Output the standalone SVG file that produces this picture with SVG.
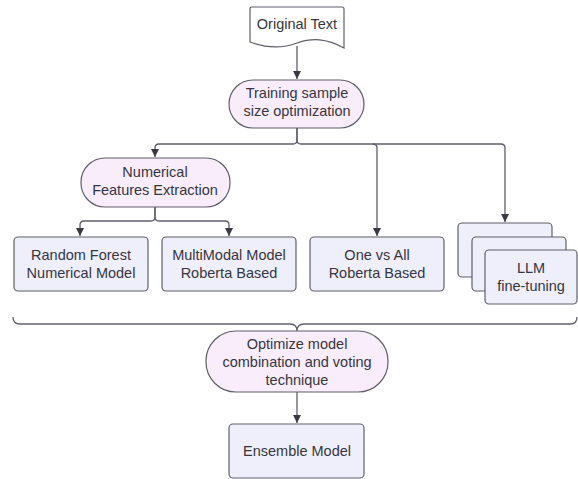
<svg xmlns="http://www.w3.org/2000/svg" width="578" height="479" viewBox="0 0 578 479">
<defs>
<marker id="ah" viewBox="0 0 10 10" refX="10" refY="5" markerWidth="8" markerHeight="8" markerUnits="userSpaceOnUse" orient="auto">
<path d="M0,0 L10,5 L0,10 Z" fill="#3a3a44"/>
</marker>
<style>
.box{fill:#efeffc;stroke:#5f5f6b;stroke-width:1.2}
.pill{fill:#f9edfb;stroke:#5f5f6b;stroke-width:1.2}
.doc{fill:#ffffff;stroke:#5f5f6b;stroke-width:1.2}
.c{fill:none;stroke:#5f5f6b;stroke-width:1.3}
.a{marker-end:url(#ah)}
text{font-family:"Liberation Sans",Arial,sans-serif;font-size:14.5px;fill:#363640;text-anchor:middle;dominant-baseline:central}
</style>
</defs>
<rect width="578" height="479" fill="#ffffff"/>
<g id="connectors">
<path class="c a" d="M297,46 V79"/>
<path class="c a" d="M297,128 V140 Q297,144 293,144 H159 Q155,144 155,148 V157"/>
<path class="c a" d="M297,128 V140 Q297,144 301,144 H373 Q377,144 377,148 V236"/>
<path class="c a" d="M373,144 H501 Q505,144 505,148 V222"/>
<path class="c a" d="M155,207 V217 Q155,221 151,221 H84 Q80,221 80,225 V236"/>
<path class="c a" d="M155,207 V217 Q155,221 159,221 H225 Q229,221 229,225 V236"/>
<path class="c" d="M13,317 Q13,324 20,324 H290 Q297,324 297,331 Q297,324 304,324 H570 Q577,324 577,317"/>
<path class="c a" d="M297,392 V423"/>
</g>
<g id="original-text">
<path class="doc" d="M252,7 H342 Q344,7 344,9 V48 C326,38 312,38 297,43 C281,49 266,48 250,42 V9 Q250,7 252,7 Z"/>
<text x="297" y="24">Original Text</text>
</g>
<g id="training">
<rect class="pill" x="229" y="80" width="135" height="48" rx="24"/>
<text x="297" y="93">Training sample</text>
<text x="297" y="111">size optimization</text>
</g>
<g id="numerical">
<rect class="pill" x="81" y="158" width="149" height="49" rx="24"/>
<text x="155" y="172">Numerical</text>
<text x="155" y="190">Features Extraction</text>
</g>
<g id="random-forest">
<rect class="box" x="14" y="237" width="134" height="54" rx="4"/>
<text x="81" y="255">Random Forest</text>
<text x="81" y="273">Numerical Model</text>
</g>
<g id="multimodal">
<rect class="box" x="162" y="237" width="134" height="54" rx="4"/>
<text x="229" y="255">MultiModal Model</text>
<text x="229" y="273">Roberta Based</text>
</g>
<g id="one-vs-all">
<rect class="box" x="310" y="237" width="134" height="54" rx="4"/>
<text x="377" y="255">One vs All</text>
<text x="377" y="273">Roberta Based</text>
</g>
<g id="llm">
<rect class="box" x="458" y="223" width="94" height="54" rx="4"/>
<rect class="box" x="472" y="237" width="94" height="54" rx="4"/>
<rect class="box" x="485" y="250" width="92" height="54" rx="4"/>
<text x="531" y="268">LLM</text>
<text x="531" y="286">fine-tuning</text>
</g>
<g id="optimize">
<rect class="pill" x="206" y="331" width="182" height="61" rx="30"/>
<text x="297" y="344">Optimize model</text>
<text x="297" y="362">combination and voting</text>
<text x="297" y="380">technique</text>
</g>
<g id="ensemble">
<rect class="box" x="229" y="424" width="135" height="54" rx="4"/>
<text x="297" y="451">Ensemble Model</text>
</g>
</svg>
